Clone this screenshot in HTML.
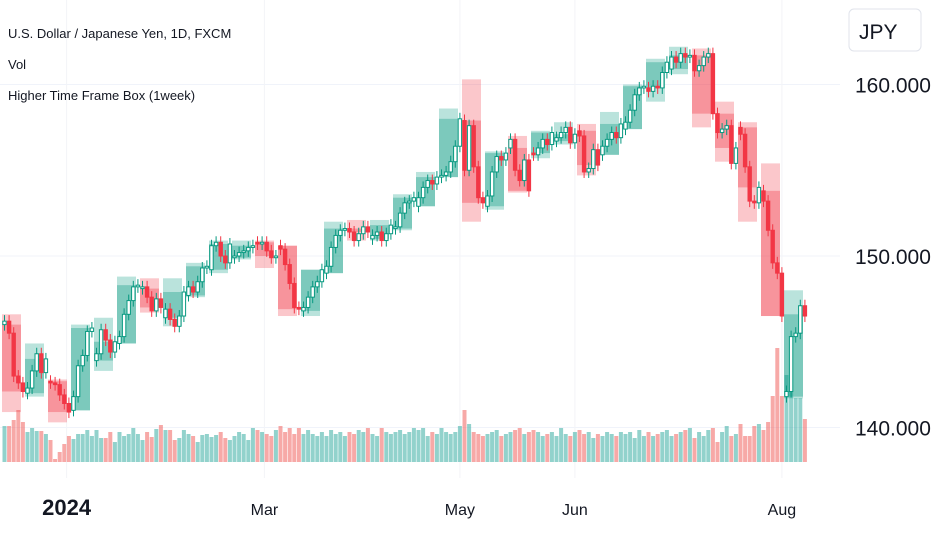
<!DOCTYPE html>
<html><head><meta charset="utf-8"><style>
body{margin:0;background:#fff;font-family:"Liberation Sans",sans-serif;}
#wrap{position:relative;width:932px;height:550px;overflow:hidden;}
svg text{font-family:"Liberation Sans",sans-serif;}
</style></head><body>
<div id="wrap">
<svg id="chart" width="932" height="550">
  <g id="grid"></g>
  <g id="vol"></g>
  <g id="boxes"></g>
  <g id="candles"></g>
  <g id="yaxis"></g>
  <g id="xaxis"></g>
  <text x="8" y="38" font-size="13" fill="#131722">U.S. Dollar / Japanese Yen, 1D, FXCM</text>
  <text x="8" y="69" font-size="13" fill="#131722">Vol</text>
  <text x="8" y="100" font-size="13" fill="#131722">Higher Time Frame Box (1week)</text>
  <rect x="849" y="9" width="72" height="42" rx="5" fill="#fff" stroke="#e0e3eb"/>
  <text x="859" y="39" font-size="21" fill="#131722">JPY</text>
</svg>
</div>
<script>
const weekOpen =[146.0,142.0,142.7,141.0,143.9,144.9,148.1,146.4,147.7,149.2,149.9,150.8,150.6,146.8,149.0,151.6,151.0,151.6,152.9,154.6,157.9,152.9,156.3,156.0,156.7,157.3,155.9,157.4,159.8,160.9,161.7,158.3,157.5,153.8,141.8];
const weekClose=[142.1,144.0,140.9,145.8,145.0,148.3,147.0,147.9,149.4,150.7,150.6,150.0,146.9,149.2,151.6,151.4,151.8,153.4,154.6,158.0,153.1,156.0,153.8,157.2,157.1,155.3,157.7,159.9,161.3,161.7,158.3,156.3,154.0,146.5,146.6];
const weekHigh =[146.6,144.9,142.8,146.0,146.4,148.8,148.7,148.7,149.6,150.9,150.9,150.9,150.6,149.2,152.0,152.1,152.1,153.6,154.9,158.6,160.3,156.1,157.0,157.3,157.8,157.7,158.4,160.0,161.5,162.2,162.1,159.0,157.8,155.4,148.0];
const weekLow  =[140.9,141.8,140.3,141.0,143.3,144.9,146.7,145.9,147.6,149.0,149.8,149.3,146.5,146.5,149.0,150.9,150.9,151.5,152.9,154.6,152.0,152.7,153.7,155.7,156.5,154.7,155.9,157.4,159.0,160.6,157.5,155.5,152.0,146.5,141.7];
const dailyClose=[
146.2,145.5,143.0,142.6,142.1, 142.3,143.3,144.3,143.2,144.0, 142.6,142.5,141.9,141.4,140.9,
141.8,143.6,144.2,145.6,145.8, 144.3,145.7,145.1,144.4,145.0, 145.3,146.6,147.4,148.2,148.3,
148.2,147.6,146.8,147.5,147.0, 146.9,146.3,145.9,146.5,147.9, 148.2,147.9,148.5,149.3,149.4,
150.6,150.8,150.0,149.6,150.7, 150.0,150.2,150.3,150.5,150.6, 150.7,150.8,150.3,149.9,150.0,
150.4,149.5,148.4,147.0,146.9, 147.0,147.6,148.2,148.5,149.2, 149.4,150.5,151.2,151.5,151.6,
151.4,150.9,151.3,151.7,151.4, 151.2,151.4,150.9,151.3,151.8, 151.7,152.5,153.1,153.2,153.4,
153.4,154.0,154.4,154.2,154.6, 154.7,154.9,155.5,156.4,158.0, 155.0,157.6,155.2,153.4,153.1,
153.5,154.9,155.8,155.6,156.0, 156.8,155.0,154.4,155.6,153.8, 155.9,156.3,156.8,156.5,157.2,
156.9,157.2,157.5,156.6,157.1, 157.0,154.9,155.1,156.2,155.3, 156.4,156.8,157.2,156.9,157.7,
157.8,158.5,159.4,159.8,159.9, 159.6,159.9,159.8,160.7,161.3, 161.6,161.3,161.8,161.6,161.7,
160.8,161.1,161.6,161.8,158.3, 157.2,157.4,157.6,155.4,156.3, 157.1,155.2,153.2,153.1,154.0,
153.2,151.5,149.6,149.0,146.5, 142.1,145.3,145.5,147.1,146.5];
const volumes=[
36,36,42,52,40, 30,34,31,31,28, 22,3,10,18,26, 23,28,28,32,26, 32,24,24,30,20,
30,26,28,34,28, 22,30,25,33,37, 32,32,22,24,32, 28,26,20,27,28, 25,27,30,24,22,
26,30,28,22,34, 32,30,28,26,32, 36,30,34,28,34, 28,32,28,26,30, 26,32,28,30,26,
30,28,32,30,34, 28,26,34,30,28, 30,32,28,30,34, 32,34,26,30,28, 34,30,28,30,36,
52,38,30,28,26, 28,30,32,26,28, 30,32,34,28,30, 32,30,26,28,30, 26,34,28,26,30,
32,28,30,24,28, 26,30,28,26,30, 28,30,24,32,26, 30,26,28,30,32, 26,28,30,32,34,
24,30,26,32,34, 20,30,36,26,28, 38,26,26,36,38, 32,40,66,114,66, 87,77,64,64,43];
const priceTicks=[140,150,160];
const priceLabels=["140.000","150.000","160.000"];
const timeLabels=["2024","Mar","May","Jun","Aug"];
const timeLabelDays=[13.5,56.5,99,124,169];

const NS="http://www.w3.org/2000/svg";
const y=p=>256-(p-150)*17.15;
const wx=w=>2+23*w;
const dx=i=>wx(Math.floor(i/5))+2.5+4.6*(i%5);
const vy=v=>462-v;
function mk(tag,attrs,parent){const e=document.createElementNS(NS,tag);for(const k in attrs)e.setAttribute(k,attrs[k]);parent.appendChild(e);return e;}
const G=id=>document.getElementById(id);

priceTicks.forEach((p,i)=>{
  const l=mk('line',{x1:0,x2:840,y1:y(p),y2:y(p),stroke:'#f0f3fa','stroke-width':1},G('grid'));
  
  
  const t=mk('text',{x:855,y:y(p)+8,'font-size':21,fill:'#131722'},G('yaxis'));
  t.textContent=priceLabels[i];
  
  
});
timeLabels.forEach((s,i)=>{
  const x=dx(0)+4.6*timeLabelDays[i];
  const l=mk('line',{x1:x,x2:x,y1:0,y2:478,stroke:'#f3f4f7','stroke-width':1},G('grid'));
  
  
  const t=mk('text',{x:x,y:515,'font-size':i==0?22:16,'font-weight':i==0?'bold':'normal','text-anchor':'middle',fill:'#131722'},G('xaxis'));
  t.textContent=s;
  
  
});
// volume
volumes.forEach((v,i)=>{
  const o=i%5==0?weekOpen[Math.floor(i/5)]:dailyClose[i-1];
  const up=dailyClose[i]>=o;
  const r=mk('rect',{x:dx(i)-2,y:vy(v),width:4,height:v,fill:up?'rgba(38,166,154,0.5)':'rgba(239,83,80,0.5)'},G('vol'));
  
  
});
// weekly boxes
weekOpen.forEach((o,w)=>{
  const c=weekClose[w],up=c>=o;
  const col=up?'8,153,129':'242,54,69';
  const b=mk('rect',{x:wx(w),y:y(weekHigh[w]),width:19,height:y(weekLow[w])-y(weekHigh[w]),fill:`rgba(${col},0.28)`},G('boxes'));
  
  
  const bb=mk('rect',{x:wx(w),y:y(Math.max(o,c)),width:19,height:Math.max(1,Math.abs(y(o)-y(c))),fill:`rgba(${col},0.35)`},G('boxes'));
  
  
});
// daily candles
dailyClose.forEach((c,i)=>{
  const o=i%5==0?weekOpen[Math.floor(i/5)]:dailyClose[i-1];
  const up=c>=o,x=dx(i);
  const col=up?'#089981':'#f23645';
  const hi=Math.max(o,c)+0.35,lo=Math.min(o,c)-0.35;
  const wl=mk('line',{x1:x,x2:x,y1:y(hi),y2:y(lo),stroke:col,'stroke-width':1},G('candles'));
  
  
  const r=mk('rect',{x:x-1.7,y:y(Math.max(o,c)),width:3.4,height:Math.max(1,Math.abs(y(o)-y(c))),fill:up?'#fff':col,stroke:col,'stroke-width':1},G('candles'));
  
  
});
</script>
</body></html>
